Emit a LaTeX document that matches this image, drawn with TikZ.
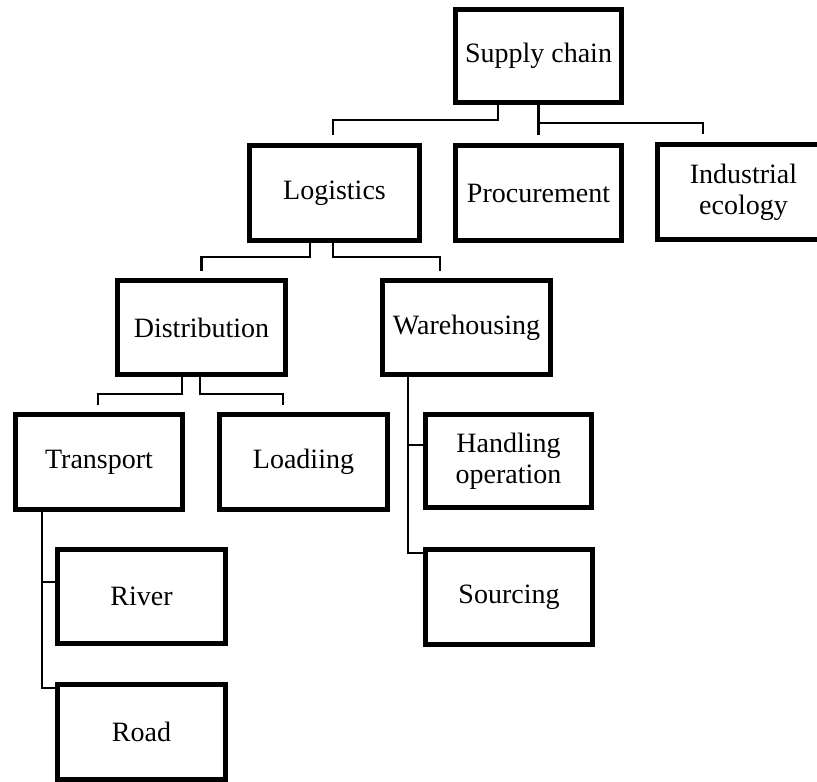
\documentclass[tikz,border=0pt]{standalone}
\usepackage{fontspec}
\setmainfont{Liberation Serif}
\begin{document}
\begin{tikzpicture}[x=1pt,y=-1pt,
  box/.style={draw=black,line width=5pt,rectangle,inner sep=0pt,align=center,
    font=\fontsize{28}{31}\selectfont},
  link/.style={draw=black,line width=2.2pt}]
\useasboundingbox (0,0) rectangle (817,782);

% boxes
\node[box,minimum width=166pt,minimum height=93pt] (supply) at (538.5,56) {Supply chain};
\node[box,minimum width=170pt,minimum height=95pt] (logistics) at (334.5,193) {Logistics};
\node[box,minimum width=166pt,minimum height=95pt] (procure) at (538.5,193) {Procurement};
\node[box,minimum width=173pt,minimum height=95pt] (industrial) at (743.5,192) {Industrial\\ecology};
\node[box,minimum width=168pt,minimum height=94pt] (distribution) at (201.5,327.5) {Distribution};
\node[box,minimum width=168pt,minimum height=94pt] (warehousing) at (466.5,327.5) {Warehousing};
\node[box,minimum width=167pt,minimum height=95pt] (transport) at (99,462) {Transport};
\node[box,minimum width=168pt,minimum height=95pt] (loading) at (303.5,462) {Loadiing};
\node[box,minimum width=166pt,minimum height=93pt] (handling) at (508.5,461) {Handling\\operation};
\node[box,minimum width=168pt,minimum height=94pt] (river) at (141.5,596.5) {River};
\node[box,minimum width=167pt,minimum height=95pt] (sourcing) at (509,597) {Sourcing};
\node[box,minimum width=168pt,minimum height=95pt] (road) at (141.5,732) {Road};

% supply chain branches
\draw[link] ([xshift=-40.5pt]supply.south) |- ([xshift=-1.5pt,yshift=-15pt]supply.south -| logistics.north)
  -- ([xshift=-1.5pt,yshift=8pt]logistics.north);
\draw[link] (supply.south) -- ([yshift=8pt]procure.north);
\draw[link] ([yshift=-18pt]supply.south) -| ([xshift=-40.5pt,yshift=8pt]industrial.north);

% logistics branches
\draw[link] ([xshift=-24.5pt]logistics.south) |- ([yshift=-14pt]logistics.south -| distribution.north)
  -- ([yshift=7pt]distribution.north);
\draw[link] ([xshift=-1.5pt]logistics.south) |- ([xshift=-26.5pt,yshift=-14pt]logistics.south -| warehousing.north)
  -- ([xshift=-26.5pt,yshift=7pt]warehousing.north);

% distribution branches
\draw[link] ([xshift=-19.5pt]distribution.south) |- ([xshift=-1pt,yshift=-17pt]distribution.south -| transport.north)
  -- ([xshift=-1pt,yshift=7pt]transport.north);
\draw[link] ([xshift=-1.5pt]distribution.south) |- ([xshift=-20.5pt,yshift=-17pt]distribution.south -| loading.north)
  -- ([xshift=-20.5pt,yshift=7pt]loading.north);

% transport branches
\draw[link] ([xshift=-57pt]transport.south) |- ([yshift=14.5pt]river.west);
\draw[link] ([xshift=-57pt]transport.south) |- ([yshift=44pt]road.west);

% warehousing branches
\draw[link] ([xshift=-58.5pt]warehousing.south) |- ([yshift=16pt]handling.west);
\draw[link] ([xshift=-58.5pt]warehousing.south) |- ([yshift=44pt]sourcing.west);
\end{tikzpicture}
\end{document}
